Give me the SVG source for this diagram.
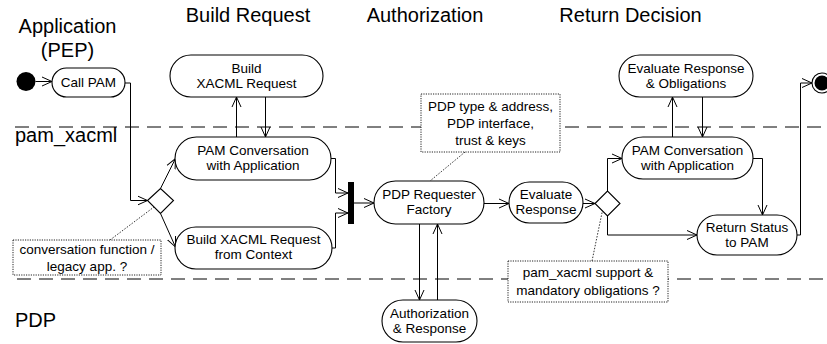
<svg xmlns="http://www.w3.org/2000/svg" width="827" height="344" viewBox="0 0 827 344">
<defs>
<marker id="arr" markerUnits="userSpaceOnUse" markerWidth="12" markerHeight="12" refX="10" refY="6" orient="auto">
<path d="M0,1.5 L10,6 L0,10.5" fill="none" stroke="#000" stroke-width="1"/>
</marker>
</defs>
<style>
text{font-family:"Liberation Sans",Arial,sans-serif;fill:#000}
.title{font-size:20px}
.lbl{font-size:13.5px;text-anchor:middle}
.node{fill:#fff;stroke:#000;stroke-width:1.1}
.note{fill:#fff;stroke:#222;stroke-width:1;stroke-dasharray:1.2 1.2}
.lane{stroke:#000;stroke-width:1;stroke-dasharray:14 8;fill:none}
.c{fill:none;stroke:#000;stroke-width:1;marker-end:url(#arr)}
.d{fill:none;stroke:#000;stroke-width:0.8;stroke-dasharray:1.5 1.5}
</style>
<rect width="827" height="344" fill="#fff"/>
<g id="lanes">
<line class="lane" x1="15" y1="127" x2="827" y2="127"/>
<line class="lane" x1="17" y1="279" x2="827" y2="279"/>
<text class="title" x="67.5" y="33" text-anchor="middle">Application</text>
<text class="title" x="67.5" y="57" text-anchor="middle">(PEP)</text>
<text class="title" x="248" y="22" text-anchor="middle">Build Request</text>
<text class="title" x="425" y="22" text-anchor="middle">Authorization</text>
<text class="title" x="630.5" y="22" text-anchor="middle">Return Decision</text>
<text class="title" x="15" y="142">pam_xacml</text>
<text class="title" x="15" y="327">PDP</text>
</g>
<g id="connectors">
<line class="c" x1="35.5" y1="81.5" x2="52" y2="81.5"/>
<path class="c" d="M125,83 H130.5 V200.5 H147.5"/>
<path class="c" d="M160.5,188.5 L175.5,158.5"/>
<path class="c" d="M160.5,213.5 L175.5,247"/>
<line class="c" x1="236.5" y1="137" x2="236.5" y2="97"/>
<line class="c" x1="265.5" y1="97" x2="265.5" y2="137"/>
<path class="c" d="M331,158.5 H335.5 V193 H348"/>
<path class="c" d="M332,248 H335.5 V213 H348"/>
<line class="c" x1="354" y1="203" x2="374" y2="203"/>
<line class="c" x1="419.5" y1="224" x2="419.5" y2="300"/>
<line class="c" x1="437.5" y1="300" x2="437.5" y2="224"/>
<line class="c" x1="484" y1="203.5" x2="509" y2="203.5"/>
<line class="c" x1="583" y1="203.5" x2="595" y2="203.5"/>
<path class="c" d="M607.5,191 V158.5 H622"/>
<path class="c" d="M607.5,216 V235 H697"/>
<line class="c" x1="672.5" y1="137" x2="672.5" y2="97"/>
<line class="c" x1="702.5" y1="97" x2="702.5" y2="137"/>
<path class="c" d="M753,158.5 H762.5 V215"/>
<path class="c" d="M797,235 H800.5 V83 H812"/>
<line class="d" x1="110" y1="240" x2="154" y2="207"/>
<line class="d" x1="465" y1="152" x2="430" y2="181"/>
<line class="d" x1="592" y1="261" x2="603" y2="208"/>
</g>
<g id="start"><circle cx="26" cy="81.5" r="9.5" fill="#000"/></g>
<g id="callPam"><rect class="node" x="52" y="68" width="73" height="29" rx="14.5"/><text class="lbl" x="88.5" y="87">Call PAM</text></g>
<g id="decision1"><polygon class="node" points="147.5,200.5 160.5,188.5 173.5,200.5 160.5,213.5"/></g>
<g id="buildXacml"><rect class="node" x="170" y="55" width="153" height="42" rx="21"/><text class="lbl" x="246.5" y="72.5">Build</text><text class="lbl" x="246.5" y="87.5">XACML Request</text></g>
<g id="pamConv1"><rect class="node" x="175" y="137" width="156" height="43" rx="21.5"/><text class="lbl" x="253" y="155">PAM Conversation</text><text class="lbl" x="253" y="170">with Application</text></g>
<g id="buildCtx"><rect class="node" x="175" y="227" width="157" height="42" rx="21"/><text class="lbl" x="253.5" y="244">Build XACML Request</text><text class="lbl" x="253.5" y="259">from Context</text></g>
<g id="join"><rect x="348" y="182" width="6" height="42" fill="#000"/></g>
<g id="pdpFactory"><rect class="node" x="374" y="181" width="110" height="43" rx="21.5"/><text class="lbl" x="429" y="199">PDP Requester</text><text class="lbl" x="429" y="214">Factory</text></g>
<g id="authResp"><rect class="node" x="382" y="300" width="95" height="42" rx="21"/><text class="lbl" x="429.5" y="318">Authorization</text><text class="lbl" x="429.5" y="333">&amp; Response</text></g>
<g id="evalResp"><rect class="node" x="509" y="182" width="74" height="41" rx="20.5"/><text class="lbl" x="546" y="199">Evaluate</text><text class="lbl" x="546" y="214">Response</text></g>
<g id="decision2"><polygon class="node" points="595,203.5 607.5,191 620,203.5 607.5,216"/></g>
<g id="evalObl"><rect class="node" x="619" y="55" width="134" height="42" rx="21"/><text class="lbl" x="686" y="72.5">Evaluate Response</text><text class="lbl" x="686" y="87.5">&amp; Obligations</text></g>
<g id="pamConv2"><rect class="node" x="622" y="137" width="131" height="42" rx="21"/><text class="lbl" x="687.5" y="155">PAM Conversation</text><text class="lbl" x="687.5" y="170">with Application</text></g>
<g id="returnStatus"><rect class="node" x="697" y="215" width="100" height="40" rx="20"/><text class="lbl" x="747" y="231.5">Return Status</text><text class="lbl" x="747" y="246.5">to PAM</text></g>
<g id="end"><circle cx="822" cy="83" r="10" fill="#fff" stroke="#000" stroke-width="1.1"/><circle cx="822" cy="83" r="7.5" fill="#000"/></g>
<g id="note1"><rect class="note" x="13" y="240" width="148" height="35"/><text class="lbl" x="87" y="253.5">conversation function /</text><text class="lbl" x="87" y="270.5">legacy app. ?</text></g>
<g id="note2"><rect class="note" x="421" y="94" width="139" height="58"/><text class="lbl" x="490.5" y="110.5">PDP type &amp; address,</text><text class="lbl" x="490.5" y="127.5">PDP interface,</text><text class="lbl" x="490.5" y="144.5">trust &amp; keys</text></g>
<g id="note3"><rect class="note" x="508" y="261" width="160" height="41"/><text class="lbl" x="588" y="276.5">pam_xacml support &amp;</text><text class="lbl" x="588" y="295">mandatory obligations ?</text></g>
</svg>
